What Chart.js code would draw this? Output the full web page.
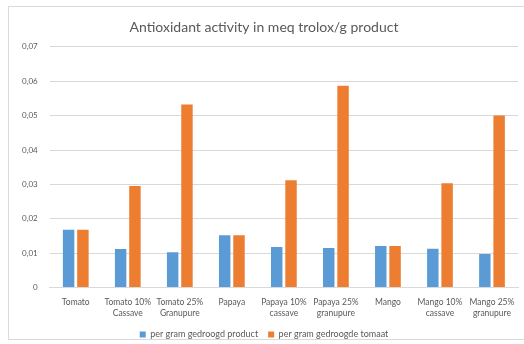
<!DOCTYPE html>
<html>
<head>
<meta charset="utf-8">
<script src="https://cdn.jsdelivr.net/npm/chart.js@4.4.1/dist/chart.umd.min.js"></script>
<style>
  html, body { margin: 0; padding: 0; background: #fff; overflow: hidden; }
  #frame { position: absolute; left: 8px; top: 6px; width: 530px; height: 332px; border: 1px solid #d9d9d9; }
  #wrap { position: absolute; left: 0; top: 0; width: 524px; height: 349px; }
</style>
</head>
<body>
<div id="frame"></div>
<div id="wrap"><canvas id="barChart"></canvas></div>
<script>
const categories = [
  'Tomato', ['Tomato 10%', 'Cassave'], ['Tomato 25%', 'Granupure'],
  'Papaya', ['Papaya 10%', 'cassave'], ['Papaya 25%', 'granupure'],
  'Mango', ['Mango 10%', 'cassave'], ['Mango 25%', 'granupure']
];
const perProduct = [0.0168, 0.0112, 0.0103, 0.0152, 0.0118, 0.0115, 0.0121, 0.0113, 0.0098];
const perTomato = [0.0168, 0.0295, 0.0532, 0.0152, 0.0312, 0.0587, 0.0121, 0.0303, 0.0500];
const yTicks = [0, 0.01, 0.02, 0.03, 0.04, 0.05, 0.06, 0.07];

const ctx = document.getElementById('barChart');
new Chart(ctx, {
  type: 'bar',
  data: {
    labels: categories,
    datasets: [
      { label: 'per gram gedroogd product', data: perProduct, backgroundColor: '#5B9BD5' },
      { label: 'per gram gedroogde tomaat', data: perTomato, backgroundColor: '#ED7D31' }
    ]
  },
  options: {
    responsive: true,
    maintainAspectRatio: false,
    animation: false,
    categoryPercentage: 0.55,
    barPercentage: 0.8,
    layout: { padding: { left: 10, right: 6, top: 12, bottom: 0 } },
    plugins: {
      title: {
        display: true,
        text: 'Antioxidant activity in meq trolox/g product',
        color: '#595959',
        font: { family: 'Lato', size: 14, weight: 'normal' },
        padding: { top: 7, bottom: 11 }
      },
      legend: {
        position: 'bottom',
        labels: {
          color: '#595959',
          font: { family: 'Lato', size: 9 },
          boxWidth: 6, boxHeight: 6,
          padding: 10
        }
      },
      tooltip: { enabled: false }
    },
    scales: {
      y: {
        min: 0,
        max: 0.07,
        afterBuildTicks: (axis) => { axis.ticks = yTicks.map(v => ({ value: v })); },
        ticks: {
          color: '#595959',
          font: { family: 'Lato', size: 8 },
          padding: 12,
          callback: (v) => v === 0 ? '0' : v.toFixed(2).replace('.', ',')
        },
        grid: { color: '#d9d9d9', drawTicks: false },
        border: { display: false }
      },
      x: {
        ticks: {
          color: '#595959',
          font: { family: 'Lato', size: 8.5 },
          maxRotation: 0,
          autoSkip: false,
          padding: 2
        },
        grid: { display: false },
        border: { color: '#d9d9d9' }
      }
    }
  }
});
</script>
</body>
</html>
